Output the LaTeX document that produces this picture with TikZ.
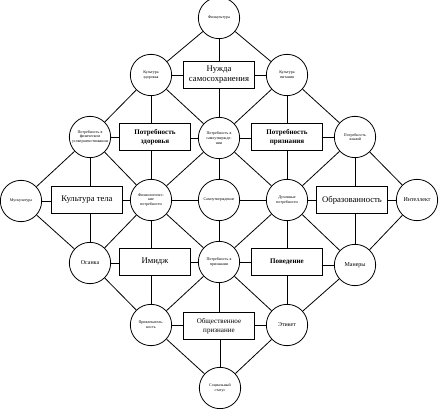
\documentclass[tikz,border=0pt]{standalone}
\usepackage{fontspec}
\setmainfont{Liberation Serif}

\tikzset{every picture/.style={line width=0.6pt}}
\tikzset{
  krug/.style={draw, circle, minimum size=31pt, inner sep=0pt, align=center, font=\fontsize{3}{3.5}\selectfont},
  krugb/.style={krug, font=\fontsize{4.5}{5}\selectfont},
  blok/.style={draw, rectangle, minimum width=53pt, minimum height=20pt, inner sep=1pt, align=center, font=\fontsize{5.3}{6.5}\selectfont},
  blokb/.style={blok, font=\bfseries\fontsize{5.3}{6.5}\selectfont},
  blokv/.style={blok, font=\fontsize{6.5}{7.5}\selectfont},
}

\begin{document}
\begin{tikzpicture}[x=0.75pt,y=0.75pt,yscale=-1,xscale=1]
\useasboundingbox (0,0) rectangle (439,409);

% Shape: Circle
\node [krug] (fizk) at (219,18) {Физкультура};
% Shape: Circle
\node [krug] (kzd) at (151,75) {Культура\\здоровья};
\node [krug] (kpit) at (287,75) {Культура\\питания};
% Shape: Circle
\node [krug] (psov) at (90,137) {Потребность в\\физическом\\усовершенствовании};
\node [krug] (psam) at (219,138) {Потребность в\\самоутвержде-\\нии};
\node [krug] (pzn) at (355,137) {Потребность\\знаний};
% Shape: Circle
\node [krug] (musk) at (21,201) {Мускулатура};
\node [krug] (fizp) at (151,200) {Физиологичес-\\кие\\потребности};
\node [krug] (samo) at (219,200) {Самоутверждение};
\node [krug] (duh) at (287,200) {Духовные\\потребности};
\node [krugb] (intel) at (417,200) {Интеллект};
% Shape: Circle
\node [krugb] (osan) at (90,263) {Осанка};
\node [krug] (ppriz) at (219,262) {Потребность в\\признании};
\node [krugb] (maner) at (355,265) {Манеры};
% Shape: Circle
\node [krug] (privl) at (151,325) {Привлекатель-\\ность};
\node [krugb] (etik) at (287,325) {Этикет};
% Shape: Circle
\node [krug] (sstat) at (220,388) {Социальный\\статус};

% Shape: Rectangle
\node [blokv] (nuzh) at (219,75) {Нужда\\самосохранения};
\node [blokb] (zdor) at (155,137) {Потребность\\здоровья};
\node [blokb] (priz) at (287,137) {Потребность\\признания};
\node [blokv] (kult) at (87,200) {Культура тела};
\node [blokv] (obr) at (352,200) {Образованность};
\node [blokv] (imid) at (155,262) {Имидж};
\node [blokb] (pov) at (287,262) {Поведение};
\node [blok] (obsh) at (219,326) {Общественное\\признание};

% Straight Lines [diagonal]
\draw (fizk) -- (kzd) (fizk) -- (kpit);
\draw (kzd) -- (psov) (kzd) -- (psam) (kpit) -- (psam) (kpit) -- (pzn);
\draw (psov) -- (musk) (psov) -- (fizp) (psam) -- (fizp) (psam) -- (duh) (pzn) -- (duh) (pzn) -- (intel);
\draw (musk) -- (osan) (fizp) -- (osan) (fizp) -- (ppriz) (duh) -- (ppriz) (duh) -- (maner) (intel) -- (maner);
\draw (osan) -- (privl) (ppriz) -- (privl) (ppriz) -- (etik) (maner) -- (etik);
\draw (privl) -- (sstat) (etik) -- (sstat);

% Straight Lines [centre]
\draw (samo) -- (fizp) (samo) -- (duh) (samo) -- (psam) (samo) -- (ppriz);

% Straight Lines [boxes]
\draw (fizk) -- (fizk |- nuzh.north) (psam) -- (psam |- nuzh.south) (kzd) -- (kzd -| nuzh.west) (kpit) -- (kpit -| nuzh.east);
\draw (kzd) -- (kzd |- zdor.north) (fizp) -- (fizp |- zdor.south) (psov) -- (psov -| zdor.west) (psam) -- (psam -| zdor.east);
\draw (kpit) -- (kpit |- priz.north) (duh) -- (duh |- priz.south) (psam) -- (psam -| priz.west) (pzn) -- (pzn -| priz.east);
\draw (psov) -- (psov |- kult.north) (osan) -- (osan |- kult.south) (musk) -- (musk -| kult.west) (fizp) -- (fizp -| kult.east);
\draw (pzn) -- (pzn |- obr.north) (maner) -- (maner |- obr.south) (duh) -- (duh -| obr.west) (intel) -- (intel -| obr.east);
\draw (fizp) -- (fizp |- imid.north) (privl) -- (privl |- imid.south) (osan) -- (osan -| imid.west) (ppriz) -- (ppriz -| imid.east);
\draw (duh) -- (duh |- pov.north) (etik) -- (etik |- pov.south) (ppriz) -- (ppriz -| pov.west) (maner) -- (maner -| pov.east);
\draw (ppriz) -- (ppriz |- obsh.north) (sstat) -- (sstat |- obsh.south) (privl) -- (privl -| obsh.west) (etik) -- (etik -| obsh.east);

\end{tikzpicture}
\end{document}
